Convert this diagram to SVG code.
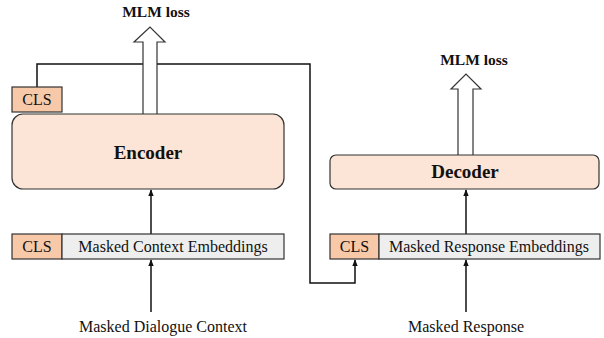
<svg xmlns="http://www.w3.org/2000/svg" width="604" height="338" viewBox="0 0 604 338">
<defs>
<style>
.box{fill:#FCE5D6;stroke:#333;stroke-width:1.2}
.cls{fill:#F8C9A8;stroke:#333;stroke-width:1.2}
.emb{fill:#EEEEEE;stroke:#333;stroke-width:1.2}
.t{font-family:'Liberation Serif','Times New Roman',serif;fill:#111;text-anchor:middle}
.big{font-size:19px;font-weight:bold}
.lbl{font-size:16px}
.loss{font-size:15.5px;font-weight:bold}
.ln{fill:none;stroke:#111;stroke-width:1.5}
.hollow{fill:#fff;stroke:#333;stroke-width:1.2}
</style>
<marker id="ah" viewBox="0 0 10 10" refX="9" refY="5" markerWidth="7" markerHeight="7" orient="auto" markerUnits="userSpaceOnUse">
<path d="M0,1 L10,5 L0,9 z" fill="#111"/>
</marker>
</defs>
<g id="connectors">
<path class="ln" d="M37,87 V64 H310 V283 H355 V260" marker-end="url(#ah)"/>
<path class="ln" d="M151,234 V190" marker-end="url(#ah)"/>
<path class="ln" d="M151,312 V260" marker-end="url(#ah)"/>
<path class="ln" d="M466,234 V190" marker-end="url(#ah)"/>
<path class="ln" d="M466,312 V260" marker-end="url(#ah)"/>
</g>
<g id="encoder-loss">
<path class="hollow" d="M143,114 V42 H134 L150,27 L165,42 H157 V114"/>
<text class="t loss" x="156" y="17">MLM loss</text>
</g>
<g id="decoder-loss">
<path class="hollow" d="M458,155 V89 H451 L466,74 L481,89 H473 V155"/>
<text class="t loss" x="474" y="65">MLM loss</text>
</g>
<g id="encoder-cls">
<rect class="cls" x="12" y="87" width="50" height="25"/>
<text class="t lbl" x="37" y="105">CLS</text>
</g>
<g id="encoder">
<rect class="box" x="12" y="114" width="272" height="75" rx="11"/>
<text class="t big" x="148" y="159">Encoder</text>
</g>
<g id="decoder">
<rect class="box" x="330" y="155" width="269" height="34" rx="6"/>
<text class="t big" x="465" y="178">Decoder</text>
</g>
<g id="context-embeddings">
<rect class="cls" x="12" y="234" width="50" height="25"/>
<text class="t lbl" x="37" y="252">CLS</text>
<rect class="emb" x="62" y="234" width="222" height="25"/>
<text class="t lbl" x="173" y="252">Masked Context Embeddings</text>
</g>
<g id="response-embeddings">
<rect class="cls" x="330" y="234" width="49" height="25"/>
<text class="t lbl" x="354.500" y="252">CLS</text>
<rect class="emb" x="379" y="234" width="221" height="25"/>
<text class="t lbl" x="489" y="252">Masked Response Embeddings</text>
</g>
<g id="inputs">
<text class="t lbl" x="163" y="332">Masked Dialogue Context</text>
<text class="t lbl" x="466" y="332">Masked Response</text>
</g>
</svg>
